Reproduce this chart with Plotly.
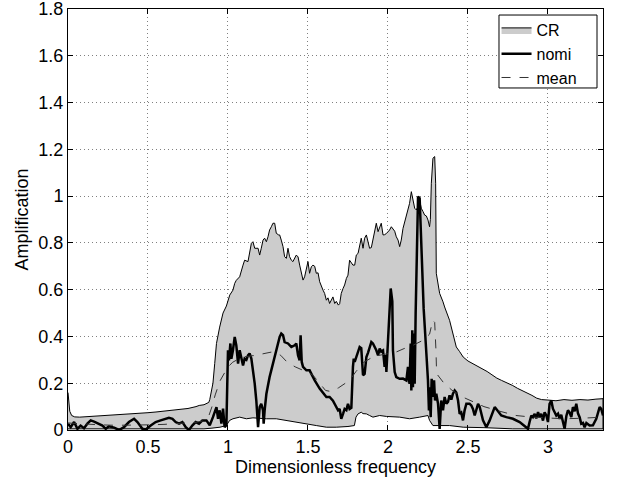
import plotly.graph_objects as go

# ---- CR upper envelope ----
cr_up_x = [0.0, 0.004, 0.011, 0.023, 0.042, 0.073, 0.1, 0.15, 0.2, 0.25, 0.3, 0.35, 0.4, 0.45, 0.5,
           0.55, 0.6, 0.65, 0.7, 0.75, 0.8, 0.82, 0.85, 0.88, 0.886, 0.906, 0.917, 0.928, 0.948,
           0.969, 0.99, 1.0, 1.011, 1.031, 1.042, 1.052, 1.073, 1.094, 1.104, 1.125, 1.135, 1.146,
           1.156, 1.167, 1.188, 1.198, 1.208, 1.219, 1.229, 1.24, 1.25, 1.26, 1.271, 1.281, 1.292,
           1.302, 1.317, 1.323, 1.333, 1.344, 1.354, 1.365, 1.375, 1.385, 1.396, 1.406, 1.427,
           1.438, 1.448, 1.458, 1.469, 1.479, 1.49, 1.5, 1.51, 1.521, 1.531, 1.542, 1.552, 1.563,
           1.573, 1.583, 1.594, 1.604, 1.615, 1.625, 1.635, 1.656, 1.667, 1.677, 1.69, 1.698,
           1.708, 1.719, 1.729, 1.74, 1.75, 1.76, 1.771, 1.781, 1.792, 1.802, 1.813, 1.823, 1.833,
           1.844, 1.854, 1.865, 1.875, 1.885, 1.896, 1.906, 1.917, 1.927, 1.938, 1.948, 1.958,
           1.969, 1.979, 1.99, 2.0, 2.01, 2.021, 2.031, 2.042, 2.052, 2.063, 2.073, 2.083, 2.094,
           2.104, 2.115, 2.125, 2.135, 2.146, 2.156, 2.167, 2.177, 2.188, 2.198, 2.208, 2.219,
           2.229, 2.24, 2.25, 2.26, 2.265, 2.271, 2.281, 2.292, 2.298, 2.302, 2.313, 2.323, 2.344,
           2.354, 2.385, 2.41, 2.427, 2.448, 2.47, 2.5, 2.53, 2.56, 2.59, 2.62, 2.65, 2.68, 2.71,
           2.75, 2.78, 2.81, 2.84, 2.87, 2.9, 2.93, 2.96, 3.0, 3.05, 3.1, 3.15, 3.2, 3.25, 3.3, 3.344]
cr_up_y = [0.16, 0.11, 0.08, 0.062, 0.056, 0.055, 0.056, 0.058, 0.06, 0.062, 0.064, 0.066, 0.068, 0.071, 0.074,
           0.077, 0.08, 0.083, 0.087, 0.092, 0.1, 0.105, 0.108, 0.118, 0.13, 0.2, 0.284, 0.37, 0.44,
           0.5, 0.53, 0.555, 0.577, 0.598, 0.627, 0.64, 0.655, 0.705, 0.726, 0.72, 0.762, 0.798,
           0.805, 0.777, 0.777, 0.748, 0.777, 0.812, 0.82, 0.805, 0.826, 0.855, 0.869, 0.884, 0.884,
           0.841, 0.834, 0.834, 0.812, 0.784, 0.741, 0.734, 0.777, 0.741, 0.726, 0.72, 0.748,
           0.74, 0.705, 0.67, 0.641, 0.655, 0.684, 0.72, 0.67, 0.698, 0.705, 0.7, 0.67, 0.672,
           0.634, 0.612, 0.598, 0.584, 0.555, 0.565, 0.541, 0.569, 0.541, 0.55, 0.534, 0.54,
           0.584, 0.605, 0.62, 0.648, 0.662, 0.726, 0.712, 0.705, 0.705, 0.748, 0.755, 0.79, 0.82,
           0.777, 0.82, 0.834, 0.805, 0.777, 0.78, 0.812, 0.855, 0.884, 0.848, 0.869, 0.884,
           0.834, 0.835, 0.84, 0.848, 0.855, 0.869, 0.86, 0.85, 0.826, 0.812, 0.784, 0.812, 0.862,
           0.891, 0.919, 0.941, 0.969, 1.019, 0.984, 0.948, 0.941, 0.955, 0.984, 0.948, 0.934,
           0.919, 0.915, 0.898, 0.869, 0.9, 1.055, 1.162, 1.169, 1.055, 0.67, 0.612, 0.584, 0.548,
           0.526, 0.469, 0.4, 0.355, 0.335, 0.312, 0.295, 0.284, 0.272, 0.262, 0.25, 0.236, 0.222, 0.212,
           0.2, 0.19, 0.178, 0.169, 0.158, 0.148, 0.136, 0.13, 0.128, 0.125, 0.13, 0.127, 0.13, 0.128, 0.132, 0.134]

# ---- CR lower envelope ----
cr_lo_x = [0.0, 0.3, 0.6, 0.85, 0.9, 0.95, 0.99, 1.01, 1.031, 1.073, 1.115, 1.156, 1.198, 1.24, 1.302,
           1.365, 1.427, 1.49, 1.552, 1.615, 1.677, 1.75, 1.79, 1.8, 1.813, 1.833, 1.844, 1.865,
           1.885, 1.906, 1.948, 1.99, 2.031, 2.073, 2.135, 2.198, 2.25, 2.26, 2.281, 2.323, 2.385,
           2.47, 2.6, 2.78, 3.344]
cr_lo_y = [0.005, 0.005, 0.005, 0.005, 0.008, 0.012, 0.019, 0.041, 0.048, 0.055, 0.048, 0.052, 0.05, 0.048, 0.048,
           0.041, 0.034, 0.027, 0.019, 0.012, 0.012, 0.015, 0.019, 0.055, 0.069, 0.076, 0.07, 0.069,
           0.062, 0.055, 0.062, 0.058, 0.055, 0.055, 0.048, 0.055, 0.062, 0.041, 0.019, 0.019, 0.019,
           0.012, 0.01, 0.005, 0.005]

# ---- mean ----
mean_x = [0.0, 0.1, 0.2, 0.3, 0.4, 0.5, 0.6, 0.7, 0.8, 0.85, 0.88, 0.9, 0.92, 0.95, 0.98, 1.0, 1.03,
          1.09, 1.17, 1.23, 1.27, 1.3, 1.33, 1.37, 1.42, 1.47, 1.49, 1.53, 1.57, 1.61, 1.64, 1.69,
          1.76, 1.8, 1.85, 1.9, 1.95, 2.05, 2.1, 2.15, 2.22, 2.26, 2.28, 2.292, 2.3, 2.304, 2.35,
          2.4, 2.47, 2.53, 2.6, 2.7, 2.8, 2.9, 3.0, 3.1, 3.2, 3.344]
mean_y = [0.03, 0.025, 0.022, 0.02, 0.02, 0.022, 0.024, 0.027, 0.033, 0.04, 0.06, 0.1, 0.15, 0.21, 0.25, 0.27, 0.29,
          0.312, 0.319, 0.327, 0.333, 0.33, 0.319, 0.29, 0.27, 0.255, 0.25, 0.235, 0.2, 0.169, 0.165, 0.18,
          0.212, 0.25, 0.29, 0.31, 0.32, 0.333, 0.348, 0.36, 0.384, 0.41, 0.469, 0.46, 0.34, 0.241, 0.2,
          0.17, 0.14, 0.12, 0.1, 0.08, 0.062, 0.055, 0.05, 0.048, 0.05, 0.055]

# ---- nomi ----
nomi_x = [0.0, 0.017, 0.038, 0.059, 0.079, 0.1, 0.121, 0.142, 0.163, 0.184, 0.215, 0.236, 0.256, 0.288,
          0.319, 0.35, 0.381, 0.413, 0.434, 0.465, 0.486, 0.517, 0.548, 0.579, 0.611, 0.631, 0.653,
          0.673, 0.694, 0.715, 0.736, 0.756, 0.778, 0.798, 0.819, 0.84, 0.865, 0.886, 0.906, 0.928,
          0.938, 0.948, 0.959, 0.969, 0.979, 0.99, 1.0, 1.006, 1.015, 1.021, 1.031, 1.042, 1.052,
          1.063, 1.073, 1.084, 1.094, 1.104, 1.115, 1.125, 1.135, 1.146, 1.156, 1.167, 1.177, 1.188,
          1.198, 1.208, 1.219, 1.223, 1.229, 1.24, 1.26, 1.281, 1.302, 1.323, 1.333, 1.344, 1.354,
          1.375, 1.396, 1.417, 1.427, 1.438, 1.448, 1.454, 1.461, 1.469, 1.49, 1.51, 1.542, 1.573,
          1.615, 1.635, 1.656, 1.677, 1.688, 1.698, 1.708, 1.719, 1.729, 1.74, 1.75, 1.76, 1.771,
          1.781, 1.786, 1.792, 1.802, 1.813, 1.823, 1.833, 1.844, 1.854, 1.865, 1.875, 1.885, 1.896,
          1.906, 1.917, 1.927, 1.938, 1.948, 1.958, 1.969, 1.979, 1.986, 1.99, 2.0, 2.006, 2.017,
          2.027, 2.031, 2.042, 2.052, 2.073, 2.094, 2.115, 2.125, 2.131, 2.135, 2.142, 2.146, 2.152,
          2.156, 2.162, 2.167, 2.173, 2.188, 2.198, 2.21, 2.223, 2.24, 2.25, 2.256, 2.26, 2.267,
          2.273, 2.281, 2.288, 2.294, 2.302, 2.313, 2.323, 2.333, 2.344, 2.354, 2.365, 2.375, 2.385,
          2.396, 2.406, 2.417, 2.427, 2.438, 2.448, 2.458, 2.469, 2.479, 2.49, 2.51, 2.521, 2.531,
          2.542, 2.563, 2.573, 2.594, 2.615, 2.635, 2.656, 2.667, 2.688, 2.708, 2.74, 2.781, 2.823,
          2.854, 2.875, 2.885, 2.896, 2.906, 2.917, 2.927, 2.938, 2.948, 2.958, 2.969, 2.979, 2.99,
          3.0, 3.01, 3.021, 3.031, 3.042, 3.052, 3.063, 3.073, 3.083, 3.094, 3.104, 3.115, 3.125,
          3.135, 3.146, 3.156, 3.167, 3.177, 3.188, 3.198, 3.208, 3.219, 3.229, 3.24, 3.26, 3.281,
          3.302, 3.323, 3.333, 3.344]
nomi_y = [0.027, 0.012, 0.034, 0.005, 0.019, 0.008, 0.027, 0.041, 0.036, 0.03, 0.019, 0.005, 0.016, 0.01,
          0.0, 0.012, 0.034, 0.048, 0.034, 0.005, 0.002, 0.019, 0.034, 0.041, 0.048, 0.052, 0.048,
          0.034, 0.027, 0.034, 0.012, 0.0, 0.02, 0.034, 0.027, 0.041, 0.041, 0.02, 0.055, 0.098,
          0.048, 0.084, 0.027, 0.091, 0.012, 0.02, 0.341, 0.298, 0.37, 0.305, 0.341, 0.398, 0.362,
          0.284, 0.341, 0.312, 0.276, 0.305, 0.3, 0.319, 0.327, 0.305, 0.255, 0.198, 0.126, 0.012,
          0.098, 0.112, 0.084, 0.027, 0.084, 0.155, 0.226, 0.284, 0.341, 0.398, 0.412, 0.405, 0.376,
          0.37, 0.355, 0.362, 0.37, 0.319, 0.298, 0.405, 0.291, 0.27, 0.255, 0.255, 0.212, 0.177,
          0.141, 0.141, 0.125, 0.098, 0.084, 0.09, 0.048, 0.069, 0.09, 0.085, 0.112, 0.09, 0.095,
          0.27, 0.305, 0.291, 0.312, 0.327, 0.355, 0.35, 0.234, 0.24, 0.312, 0.33, 0.355, 0.376,
          0.37, 0.355, 0.341, 0.319, 0.348, 0.335, 0.34, 0.27, 0.32, 0.248, 0.384, 0.512, 0.605,
          0.55, 0.341, 0.248, 0.226, 0.219, 0.22, 0.212, 0.27, 0.215, 0.198, 0.37, 0.169, 0.426,
          0.183, 0.412, 0.198, 0.5, 0.998, 0.991, 0.75, 0.52, 0.327, 0.212, 0.084, 0.183, 0.055,
          0.219, 0.141, 0.212, 0.126, 0.155, 0.112, 0.005, 0.126, 0.084, 0.141, 0.112, 0.12, 0.148,
          0.13, 0.155, 0.169, 0.16, 0.126, 0.069, 0.075, 0.041, 0.084, 0.112, 0.112, 0.105, 0.09,
          0.062, 0.112, 0.1, 0.041, 0.012, 0.04, 0.084, 0.098, 0.08, 0.062, 0.055, 0.048, 0.034,
          0.019, 0.005, 0.034, 0.062, 0.055, 0.069, 0.05, 0.076, 0.055, 0.069, 0.04, 0.076, 0.062,
          0.034, 0.112, 0.126, 0.091, 0.075, 0.062, 0.07, 0.048, 0.065, 0.034, 0.005, 0.06, 0.084,
          0.075, 0.055, 0.098, 0.08, 0.112, 0.07, 0.055, 0.027, 0.03, 0.012, 0.03, 0.019, 0.02,
          0.048, 0.098, 0.09, 0.062]

x_ticks = [0, 0.5, 1, 1.5, 2, 2.5, 3]
x_tick_labels = ["0", "0.5", "1", "1.5", "2", "2.5", "3"]
y_ticks = [0, 0.2, 0.4, 0.6, 0.8, 1.0, 1.2, 1.4, 1.6, 1.8]
y_tick_labels = ["0", "0.2", "0.4", "0.6", "0.8", "1", "1.2", "1.4", "1.6", "1.8"]

FONT = "Liberation Sans, Arial, Helvetica, sans-serif"

fig = go.Figure()
fig.add_trace(go.Scatter(
    x=cr_up_x + cr_lo_x[::-1], y=cr_up_y + cr_lo_y[::-1],
    fill="toself", fillcolor="#cccccc", mode="lines",
    line=dict(color="black", width=1), name="CR"))
fig.add_trace(go.Scatter(
    x=nomi_x, y=nomi_y, mode="lines",
    line=dict(color="black", width=2.5), name="nomi"))
fig.add_trace(go.Scatter(
    x=mean_x, y=mean_y, mode="lines",
    line=dict(color="#333333", width=1, dash="dash"), name="mean"))

axis_common = dict(
    showline=True, linecolor="black", linewidth=1, mirror="allticks",
    ticks="inside", ticklen=5, tickcolor="black",
    showgrid=True, gridcolor="#808080", griddash="1px,3px", gridwidth=1,
    zeroline=False, tickfont=dict(size=18, color="black", family=FONT),
    ticklabeloverflow="allow", automargin=False,
)

fig.update_xaxes(range=[0, 3.344], tickvals=x_ticks, ticktext=x_tick_labels,
                 title=dict(text="Dimensionless frequency", font=dict(size=18, color="black", family=FONT), standoff=0),
                 **axis_common)
fig.update_yaxes(range=[0, 1.8], tickvals=y_ticks, ticktext=y_tick_labels,
                 title=dict(text="Amplification", font=dict(size=18, color="black", family=FONT), standoff=5),
                 **axis_common)

# legend frame (white box with black border), drawn above the grid
fig.add_shape(type="rect", xref="paper", yref="paper",
              x0=0.8056, x1=0.9888, y0=0.8124, y1=0.9857,
              line=dict(color="black", width=1), fillcolor="white", layer="above")

fig.update_layout(
    width=621, height=480,
    margin=dict(l=68, r=18, t=9, b=50, autoexpand=False),
    plot_bgcolor="white", paper_bgcolor="white",
    font=dict(family=FONT, size=18, color="black"),
    legend=dict(x=0.801, y=0.9905, xanchor="left", yanchor="top",
                bgcolor="rgba(0,0,0,0)", borderwidth=0,
                font=dict(size=16, family=FONT, color="black"),
                tracegroupgap=0, itemwidth=30),
    showlegend=True,
)

# remove the default 8px page margin so the figure fills the 621x480 window exactly
fig.write_html("out.html", config={"displayModeBar": False},
               post_script="document.body.style.margin='0px';")
